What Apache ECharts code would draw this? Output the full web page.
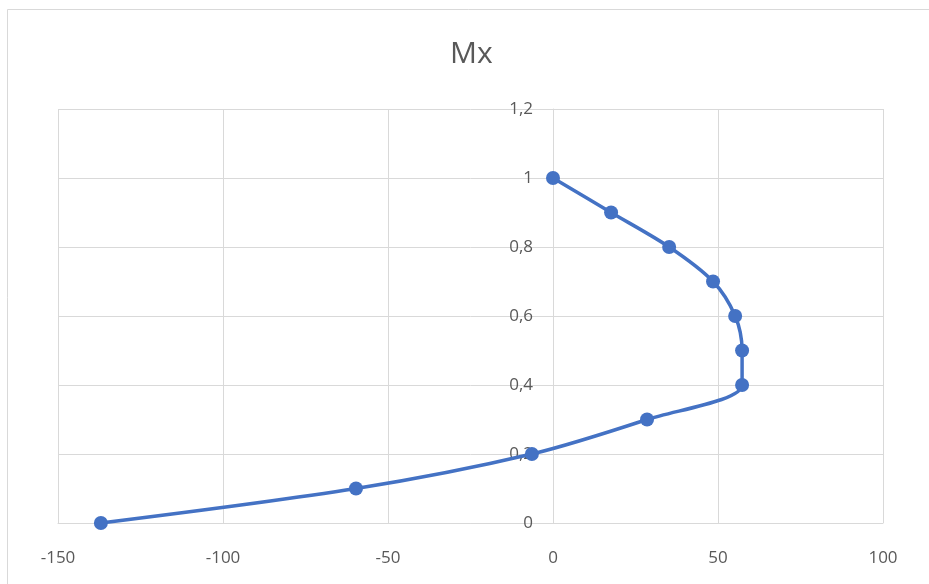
<!DOCTYPE html>
<html><head><meta charset="utf-8">
<script src="https://cdn.jsdelivr.net/npm/echarts@6/dist/echarts.min.js"></script>
<style>html,body{margin:0;padding:0;background:#fff}#c{width:929px;height:584px}</style>
</head><body><div id="c"></div>
<script>
const titleText = 'Mx';
const mxValues = [0, 17.6, 35.2, 48.5, 55.2, 57.3, 57.3, 28.5, -6.4, -59.7, -137];
const heights = [1.0, 0.9, 0.8, 0.7, 0.6, 0.5, 0.4, 0.3, 0.2, 0.1, 0];
const xTicks = [-150, -100, -50, 0, 50, 100];
const yTicks = [0, 0.2, 0.4, 0.6, 0.8, 1, 1.2];

const points = mxValues.map((v, i) => [v, heights[i]]);
const chart = echarts.init(document.getElementById('c'), null, {renderer: 'canvas'});
const fmt = v => String(Math.round(v * 10) / 10).replace('.', ',');
const gridLeft = 58, gridRight = 46;
const plotW = 929 - gridLeft - gridRight;
const xMin = xTicks[0], xMax = xTicks[xTicks.length - 1];
const zeroOffset = -plotW * (0 - xMin) / (xMax - xMin);
chart.setOption({
  animation: false,
  backgroundColor: '#fff',
  title: {
    text: titleText, left: 445, top: 34,
    textStyle: {fontFamily: 'Open Sans', fontSize: 30, fontWeight: 'normal', color: '#595959'}
  },
  graphic: [{
    type: 'rect', shape: {x: 7.5, y: 9.5, width: 1000, height: 1000},
    style: {fill: null, stroke: '#d9d9d9', lineWidth: 1}, silent: true
  }],
  grid: {left: gridLeft, right: gridRight, top: 109, bottom: 61},
  xAxis: {
    type: 'value', min: xMin, max: xMax, interval: 50,
    axisLine: {onZero: false, lineStyle: {color: '#d9d9d9'}},
    axisTick: {show: false},
    axisLabel: {margin: 27, fontFamily: 'Open Sans', fontSize: 17, color: '#595959'},
    splitLine: {show: true, lineStyle: {color: '#d9d9d9', width: 1}}
  },
  yAxis: {
    type: 'value', min: yTicks[0], max: yTicks[yTicks.length - 1], interval: 0.2,
    offset: zeroOffset,
    axisLine: {show: true, onZero: false, lineStyle: {color: '#d9d9d9'}},
    axisTick: {show: false},
    axisLabel: {margin: 20, fontFamily: 'Open Sans', fontSize: 17, color: '#595959', formatter: fmt},
    splitLine: {show: true, lineStyle: {color: '#d9d9d9', width: 1}}
  },
  series: [{
    type: 'line', data: points, smooth: 0.3,
    symbol: 'circle', symbolSize: 14,
    lineStyle: {color: '#4472C4', width: 3.5},
    itemStyle: {color: '#4472C4'},
    z: 5
  }]
});
</script></body></html>
